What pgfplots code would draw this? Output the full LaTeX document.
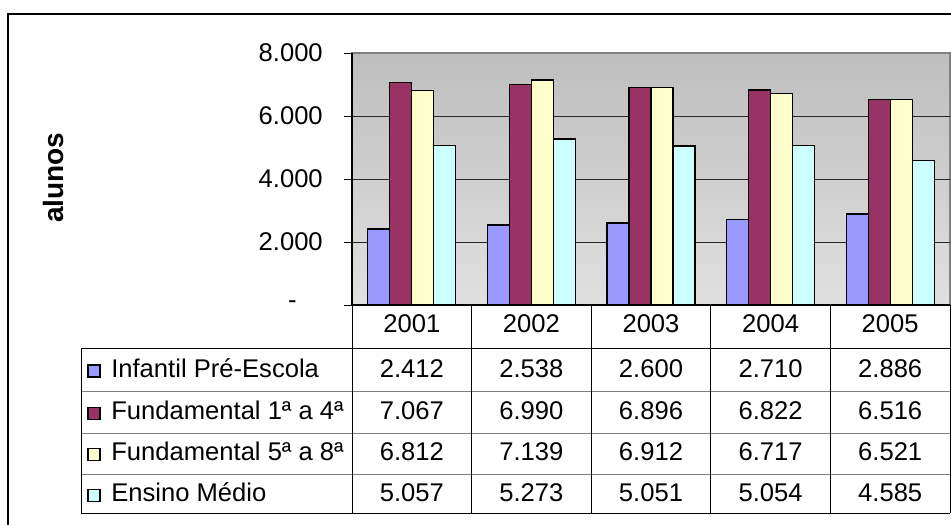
\documentclass[border=0pt]{standalone}
\usepackage{fontspec}
\setmainfont{Liberation Sans}
\usepackage{pgfplots}
\pgfplotsset{compat=1.18}
\definecolor{serA}{RGB}{153,153,255}
\definecolor{serB}{RGB}{153,51,102}
\definecolor{serC}{RGB}{255,255,204}
\definecolor{serD}{RGB}{204,255,255}
\definecolor{bgtop}{RGB}{190,190,190}
\definecolor{bgbot}{RGB}{224,224,224}
\newcommand{\txt}{\fontsize{19.2}{21}\selectfont}

\begin{document}
\begin{tikzpicture}
\begin{axis}[
    at={(264pt,-228.75pt)}, anchor=south west,
    scale only axis, width=448.5pt, height=189pt,
    xmin=-0.5, xmax=4.5, ymin=0, ymax=8000,
    ybar=0pt, bar width=0.184,
    axis lines=left, axis line style={-, black, line width=0.9pt},
    axis background/.style={shade, top color=bgtop, bottom color=bgbot, draw=gray, line width=0.9pt},
    xtick=\empty,
    ytick={2000,4000,6000},
    yticklabels={\mbox{2.000},\mbox{4.000},\mbox{6.000}},
    extra y ticks={0,8000},
    extra y tick labels={\mbox{-\hspace{19.5pt}},\mbox{8.000}},
    extra y tick style={grid=none},
    ymajorgrids, grid style={black!85, line width=0.75pt},
    tick align=outside, major tick length=6pt,
    ytick style={black, line width=0.75pt},
    yticklabel style={font=\txt, anchor=east, inner sep=0pt, xshift=-15.75pt},
    ylabel={alunos},
    ylabel style={font=\fontsize{21}{24}\selectfont\bfseries, at={(axis description cs:-0.5,0.505)}, anchor=center},
    clip=false,
]
\addplot[fill=serA, draw=black, line width=1pt] coordinates {(0,2412) (1,2538) (2,2600) (3,2710) (4,2886)};
\addplot[fill=serB, draw=black, line width=1pt] coordinates {(0,7067) (1,6990) (2,6896) (3,6822) (4,6516)};
\addplot[fill=serC, draw=black, line width=1pt] coordinates {(0,6812) (1,7139) (2,6912) (3,6717) (4,6521)};
\addplot[fill=serD, draw=black, line width=1pt] coordinates {(0,5057) (1,5273) (2,5051) (3,5054) (4,4585)};
\end{axis}
\begin{scope}[x=0.75pt, y=-0.75pt]
  % outer frame
  \draw[line width=1.5pt] (8,560) -- (8,14) -- (980,14);
  % data table grid
  \draw[black, line width=0.75pt] (81,348) -- (950,348);
  \draw[gray, line width=0.75pt] (81,391) -- (950,391) (81,433) -- (950,433) (81,474) -- (950,474);
  \draw[black, line width=0.75pt] (81,513) -- (950,513);
  \draw[black, line width=0.75pt] (81,348) -- (81,513);
  \foreach \x in {352,471.6,591.2,710.8,830.4,950}
    \draw[black, line width=0.75pt] (\x,305) -- (\x,513);
  % header
  \foreach \yr [count=\i from 0] in {2001,2002,2003,2004,2005}
    \node[font=\txt, anchor=base, inner sep=0pt] at (411.8+119.6*\i,332.7) {\yr};
  % rows
  \foreach \col/\lab/\base/\va/\vb/\vc/\vd/\ve in {
      serA/Infantil Pré-Escola/377/2.412/2.538/2.600/2.710/2.886,
      serB/Fundamental 1ª a 4ª/419.3/7.067/6.990/6.896/6.822/6.516,
      serC/Fundamental 5ª a 8ª/460.7/6.812/7.139/6.912/6.717/6.521,
      serD/Ensino Médio/501.7/5.057/5.273/5.051/5.054/4.585} {
    \draw[fill=\col, line width=0.9pt] (88,\base-12) rectangle (100,\base);
    \node[font=\txt, anchor=base west, inner sep=0pt] at (111,\base) {\lab};
    \node[font=\txt, anchor=base, inner sep=0pt] at (411.8,\base) {\va};
    \node[font=\txt, anchor=base, inner sep=0pt] at (531.4,\base) {\vb};
    \node[font=\txt, anchor=base, inner sep=0pt] at (651.0,\base) {\vc};
    \node[font=\txt, anchor=base, inner sep=0pt] at (770.6,\base) {\vd};
    \node[font=\txt, anchor=base, inner sep=0pt] at (890.2,\base) {\ve};
  }
  \pgfresetboundingbox
  \path[use as bounding box] (0,0) rectangle (951,525);
\end{scope}
\end{tikzpicture}
\end{document}
